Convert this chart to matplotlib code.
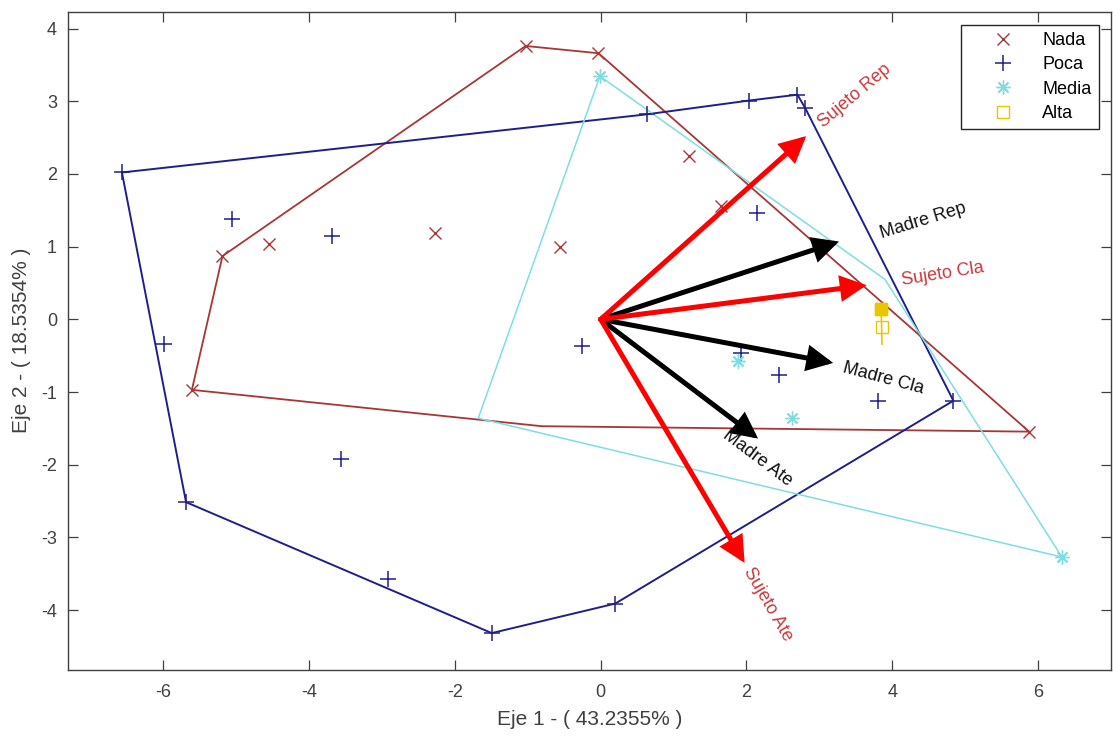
import matplotlib

matplotlib.use("Agg")
import matplotlib.pyplot as plt  # noqa: E402

plt.rcParams["font.family"] = ["Liberation Sans", "DejaVu Sans"]
plt.rcParams["axes.unicode_minus"] = False

# --- data -------------------------------------------------------------------
nada_x = [-5.19, -4.55, -2.28, -1.03, -0.03, -0.56, 1.21, 1.65, -5.61, 5.88]
nada_y = [0.87, 1.035, 1.19, 3.76, 3.66, 1.00, 2.245, 1.56, -0.97, -1.545]
nada_hull_x = [-5.19, -1.03, -0.03, 5.88, -0.81, -5.61, -5.19]
nada_hull_y = [0.87, 3.76, 3.66, -1.545, -1.47, -0.97, 0.87]

poca_x = [-6.57, -5.06, -3.69, -5.99, -5.69, -3.56, -2.92, -1.495, 0.20, -0.25,
          1.93, 2.45, 3.81, 4.84, 0.635, 2.04, 2.14, 2.70, 2.81]
poca_y = [2.02, 1.375, 1.145, -0.34, -2.515, -1.915, -3.57, -4.316, -3.91, -0.367,
          -0.46, -0.76, -1.12, -1.12, 2.82, 3.01, 1.457, 3.09, 2.90]
poca_hull_x = [-6.57, -5.69, -1.495, 0.20, 4.84, 2.81, 2.70, 2.04, 0.635, -6.57]
poca_hull_y = [2.02, -2.515, -4.316, -3.91, -1.12, 2.90, 3.09, 3.01, 2.82, 2.02]

media_x = [-0.01, 6.33, 1.88, 2.62]
media_y = [3.345, -3.27, -0.58, -1.36]
media_hull_x = [-0.01, 3.90, 6.33, -1.68, -0.01]
media_hull_y = [3.345, 0.55, -3.27, -1.36, 3.345]

alta_x = [3.85, 3.86]
alta_y = [0.14, -0.11]
alta_hull_x = [3.85, 3.86]
alta_hull_y = [0.14, -0.34]

var_names = ["Madre Rep", "Madre Cla", "Madre Ate", "Sujeto Rep", "Sujeto Cla", "Sujeto Ate"]
var_x = [3.27, 3.19, 2.16, 2.82, 3.65, 1.975]
var_y = [1.07, -0.60, -1.64, 2.52, 0.47, -3.35]

# label placement (left-middle anchor) and rotation for each variable
LABEL_POS = [(3.84, 1.17), (3.33, -0.66), (1.70, -1.57), (3.02, 2.68), (4.13, 0.53), (2.01, -3.43)]
LABEL_ROT = [17, -15, -37, 40, 9, -60]

NADA = "#A83636"
POCA = "#1F1F8C"
MEDIA = "#7FDDE2"
ALTA = "#E8C700"
SUJ_TXT = "#C83A3E"
GREY = "#404040"

fig = plt.figure(figsize=(11.13, 7.38), dpi=100)
ax = fig.add_axes([0.0611, 0.0925, 0.9369, 0.8915])

# hulls
ax.plot(nada_hull_x, nada_hull_y, color=NADA, lw=1.3)
ax.plot(poca_hull_x, poca_hull_y, color=POCA, lw=1.4)
ax.plot(media_hull_x, media_hull_y, color=MEDIA, lw=1.1)
ax.plot(alta_hull_x, alta_hull_y, color=ALTA, lw=1.2)

# points
ax.plot(nada_x, nada_y, ls="none", marker="x", ms=8, mew=1.0, color=NADA, label="Nada")
ax.plot(poca_x, poca_y, ls="none", marker="+", ms=11, mew=1.1, color=POCA, label="Poca")
ax.plot(media_x, media_y, ls="none", marker=(8, 2, 0), ms=10, mew=1.0, color=MEDIA, label="Media")
ax.plot(alta_x, alta_y, ls="none", marker="s", ms=8, mew=1.0, color=ALTA, mfc="none", label="Alta")
ax.plot(alta_x[:1], alta_y[:1], ls="none", marker="s", ms=8, color=ALTA)

# variable arrows (black first, red on top)
for i, name in enumerate(var_names):
    col = "red" if name.startswith("Sujeto") else "black"
    ax.annotate("", xy=(var_x[i], var_y[i]), xytext=(0, 0),
                arrowprops=dict(arrowstyle="-|>,head_length=0.9,head_width=0.45",
                                mutation_scale=15, lw=3.6, color=col,
                                shrinkA=0, shrinkB=0, joinstyle="miter"),
                zorder=4 if col == "red" else 3)
    ax.text(LABEL_POS[i][0], LABEL_POS[i][1], name, rotation=LABEL_ROT[i],
            rotation_mode="anchor", ha="left", va="center", fontsize=13,
            color=SUJ_TXT if col == "red" else "#111111", zorder=5)

ax.set_xlim(-7.31, 7.0)
ax.set_ylim(-4.82, 4.23)
ax.set_xticks([-6, -4, -2, 0, 2, 4, 6])
ax.set_yticks([-4, -3, -2, -1, 0, 1, 2, 3, 4])
ax.tick_params(direction="in", length=7.5, width=0.9, top=True, right=True,
               labelsize=13, labelcolor=GREY, color=GREY)
ax.tick_params(axis="x", pad=10)
ax.tick_params(axis="y", pad=8)
for s in ax.spines.values():
    s.set_color(GREY)
    s.set_linewidth(1.0)

ax.set_xlabel("Eje 1 - ( 43.2355% )", fontsize=15, color=GREY, labelpad=7)
ax.set_ylabel("Eje 2 - ( 18.5354% )", fontsize=15, color=GREY, labelpad=7)

leg = ax.legend(loc="upper right", bbox_to_anchor=(0.9885, 0.98), borderaxespad=0,
                fontsize=13, handlelength=3.8, handletextpad=0.3, labelspacing=0.4,
                borderpad=0.4, fancybox=False, framealpha=1, edgecolor="#262626")
leg.get_frame().set_linewidth(1.0)

fig.savefig("out.png", dpi=100)
